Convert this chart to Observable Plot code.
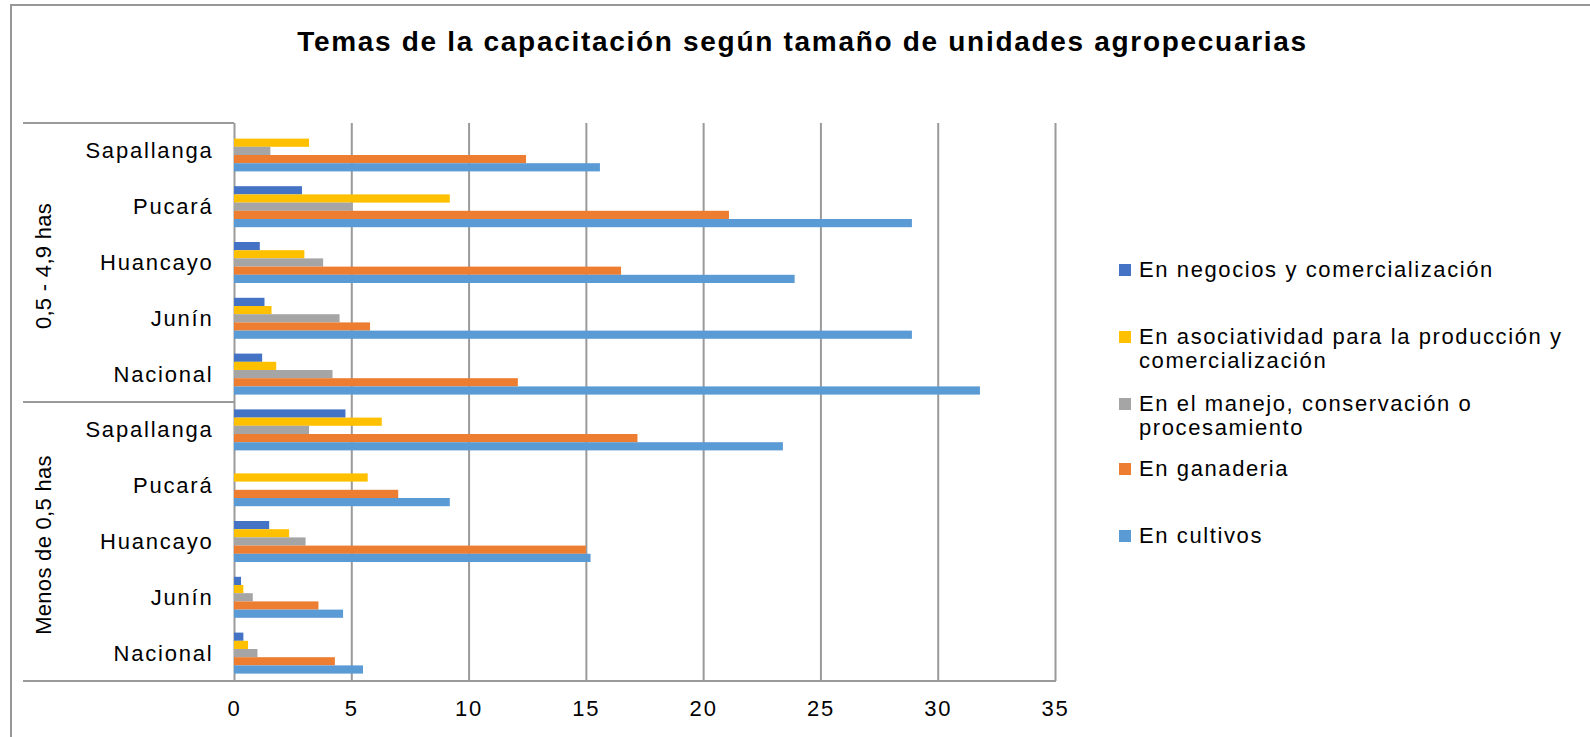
<!DOCTYPE html>
<html>
<head>
<meta charset="utf-8">
<script src="https://cdn.jsdelivr.net/npm/d3@7"></script>
<script src="https://cdn.jsdelivr.net/npm/@observablehq/plot@0.6"></script>
<style>
  body { margin: 0; width: 1590px; height: 737px; overflow: hidden; background: #fff; position: relative;
         font-family: "Liberation Sans", Arial, sans-serif; }
  #frame { position: absolute; left: 10px; top: 4px; width: 2000px; height: 2000px;
           border-top: 2px solid #979797; border-left: 2px solid #979797; }
  #title { position: absolute; left: 0; top: 26px; width: 1605px; text-align: center; font-weight: bold;
           font-size: 28px; line-height: 32px; letter-spacing: 1.7px; color: #000; }
  #chart { position: absolute; left: 0; top: 80px; }
  .leg { position: absolute; left: 1119px; width: 470px; font-size: 22px; line-height: 24.5px;
         letter-spacing: 1.6px; color: #000; }
  .leg .sw { position: absolute; left: 0; top: 6px; width: 12px; height: 12px; }
  .leg .tx { margin-left: 20px; width: 445px; }
  #chart g[aria-label="text"] text { letter-spacing: 0.3px; }
</style>
</head>
<body>
<div id="frame"></div>
<div id="title"></div>
<div id="chart"></div>
<div id="legend"></div>
<script>
const title = "Temas de la capacitación según tamaño de unidades agropecuarias";
const groups = ["0,5 - 4,9 has", "Menos de 0,5 has"];
const categories = ["Sapallanga", "Pucará", "Huancayo", "Junín", "Nacional"];
const series = [
  "En negocios y comercialización",
  "En asociatividad para la producción y comercialización",
  "En el manejo, conservación o procesamiento",
  "En ganaderia",
  "En cultivos"
];
const colors = ["#4472C4", "#FFC000", "#A5A5A5", "#ED7D31", "#5B9BD5"];
const xTicks = [0, 5, 10, 15, 20, 25, 30, 35];

// values: first 5 = "0,5 - 4,9 has" (Sapallanga..Nacional), next 5 = "Menos de 0,5 has"
const negocios      = [0,     2.9,  1.1,  1.3,  1.2,   4.75, 0,   1.5,  0.3,  0.4];
const asociatividad = [3.2,   9.2,  3.0,  1.6,  1.8,   6.3,  5.7, 2.35, 0.4,  0.6];
const manejo        = [1.55,  5.05, 3.8,  4.5,  4.2,   3.2,  0,   3.05, 0.8,  1.0];
const ganaderia     = [12.45, 21.1, 16.5, 5.8,  12.1,  17.2, 7.0, 15.0, 3.6,  4.3];
const cultivos      = [15.6,  28.9, 23.9, 28.9, 31.8,  23.4, 9.2, 15.2, 4.65, 5.5];
const seriesValues = [negocios, asociatividad, manejo, ganaderia, cultivos];

const keys = groups.flatMap(g => categories.map(c => g + "|" + c));
const rows = [];
seriesValues.forEach((vals, si) => {
  vals.forEach((v, i) => rows.push({series: series[si], si, key: keys[i], value: v}));
});
const groupLabels = groups.map(g => ({group: g, key: g + "|" + categories[Math.floor(categories.length / 2)]}));

document.getElementById("title").textContent = title;

const W = 1590, H = 657, mt = 43, mb = 56, ml = 234, mr = 535;
const band = (H - mt - mb) / keys.length;
const barH = 8.2;
const off = (band - series.length * barH) / 2;

const plot = Plot.plot({
  width: W, height: H,
  marginTop: mt, marginBottom: mb, marginLeft: ml, marginRight: mr,
  style: {fontFamily: "'Liberation Sans', Arial, sans-serif", fontSize: "22px", letterSpacing: "1.8px",
          color: "#000", background: "transparent", overflow: "visible"},
  x: {domain: [0, 35], ticks: xTicks, tickSize: 0, tickPadding: 19, label: null},
  y: {domain: keys, padding: 0, round: false, tickSize: 0, tickPadding: 21, label: null,
      tickFormat: k => k.split("|")[1]},
  marks: [
    Plot.ruleX(xTicks, {x: d => d, stroke: "#9a9a9a", strokeWidth: 2}),
    ...series.map((s, i) => Plot.barX(rows.filter(r => r.si === i), {
      x: "value", y: "key", fill: colors[i],
      insetTop: off + i * barH, insetBottom: band - off - (i + 1) * barH
    })),
    Plot.text(groupLabels, {y: "key", text: "group", frameAnchor: "left", textAnchor: "middle",
      lineAnchor: "middle", dx: -191, dy: 3, rotate: -90, fontSize: 22, fill: "#000"})
  ]
});
document.getElementById("chart").appendChild(plot);

// group separators and bottom axis line, positioned through the plot's scales
const ys = plot.scale("y"), xs = plot.scale("x");
const svg = d3.select(plot);
const leftEdge = 23;
groups.forEach(g => {
  const y = ys.apply(g + "|" + categories[0]);
  svg.append("line").attr("x1", leftEdge).attr("x2", xs.apply(0)).attr("y1", y).attr("y2", y)
    .attr("stroke", "#9a9a9a").attr("stroke-width", 2);
});
{
  const y = ys.apply(keys[keys.length - 1]) + ys.bandwidth;
  svg.append("line").attr("x1", leftEdge).attr("x2", xs.apply(35) + 1).attr("y1", y).attr("y2", y)
    .attr("stroke", "#9a9a9a").attr("stroke-width", 2);
}

// legend
const legendTops = [257.5, 324.5, 391.5, 456.5, 523.5];
const legend = document.getElementById("legend");
series.forEach((s, i) => {
  const item = document.createElement("div");
  item.className = "leg";
  item.style.top = legendTops[i] + "px";
  item.innerHTML = `<span class="sw" style="background:${colors[i]}"></span><div class="tx"></div>`;
  item.querySelector(".tx").textContent = s;
  legend.appendChild(item);
});
</script>
</body>
</html>
